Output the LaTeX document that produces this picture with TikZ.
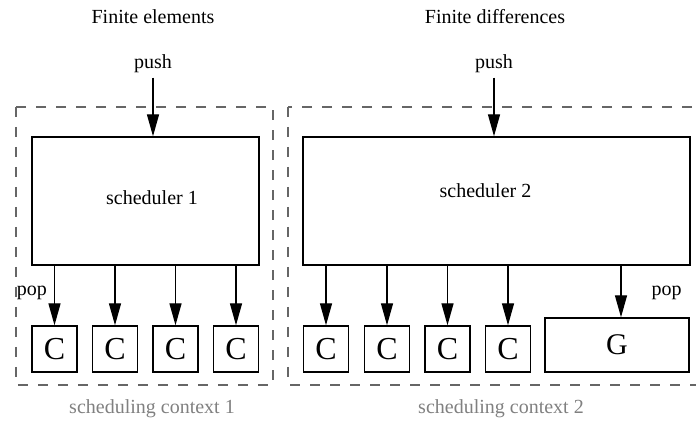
\documentclass[tikz,border=0pt]{standalone}
\usepackage{fontspec}
\setmainfont{Liberation Serif}
\usetikzlibrary{arrows.meta,positioning}
\definecolor{grigioctx}{gray}{0.4}
\definecolor{grigiotxt}{gray}{0.5}
\tikzset{
	contesto/.style={draw=grigioctx,line width=1.2pt,dash pattern=on 5pt off 5pt},
	sched/.style={draw,line width=0.7pt,minimum width=#1,minimum height=64pt,inner sep=0pt},
	cella/.style={draw,line width=0.7pt,minimum width=22.5pt,minimum height=23pt,inner sep=0pt,font=\fontsize{16}{18}\selectfont},
	freccia/.style={-{Triangle[length=11pt,width=6pt]},line width=0.7pt},
	etich/.style={anchor=base,inner sep=2pt},
}
\begin{document}
\begin{tikzpicture}[x=0.5pt,y=-0.5pt]
\useasboundingbox (0,0) rectangle (696,421);
%contesti
\draw[contesto] (16,107) rectangle (273,385);
\draw[contesto] (288,107) rectangle (712,385);
\node[etich,text=grigiotxt] (ctx1) at (152,413.5) {scheduling context 1};
\node[etich,text=grigiotxt] (ctx2) at (501,413.5) {scheduling context 2};

%elementi finiti
\node[etich] (tit1) at (153,24) {Finite elements};
\node[etich] (push1) at (153,69) {push};
\node[sched=113.5pt] (s1) at (145.5,201) {};
\node[etich] (lab1) at (152,205) {scheduler 1};
\draw[freccia] (push1) -- (push1 |- s1.north);
\foreach \x [count=\i] in {54.5,115,175.5,236}{
	\node[cella] (c1\i) at (\x,349) {C};
	\draw[freccia] (s1.south -| c1\i) -- (c1\i);
}
\node[etich] (pop1) at (32,295.7) {pop};

%differenze finite
\node[etich] (tit2) at (495,24) {Finite differences};
\node[etich] (push2) at (494,69) {push};
\node[sched=193.5pt] (s2) at (496.5,201) {};
\node[etich] (lab2) at (485.5,198) {scheduler 2};
\draw[freccia] (push2) -- (push2 |- s2.north);
\foreach \x [count=\i] in {326,387,447.5,508}{
	\node[cella] (c2\i) at (\x,349) {C};
	\draw[freccia] (s2.south -| c2\i) -- (c2\i);
}
\node[cella,minimum width=72pt,minimum height=27pt,font=\fontsize{15}{18}\selectfont] (g) at (617,345) {G};
\coordinate (gin) at ([xshift=2pt]g.north);
\draw[freccia] (s2.south -| gin) -- (gin);
\node[etich] (pop2) at (666.5,295.7) {pop};
\end{tikzpicture}
\end{document}
